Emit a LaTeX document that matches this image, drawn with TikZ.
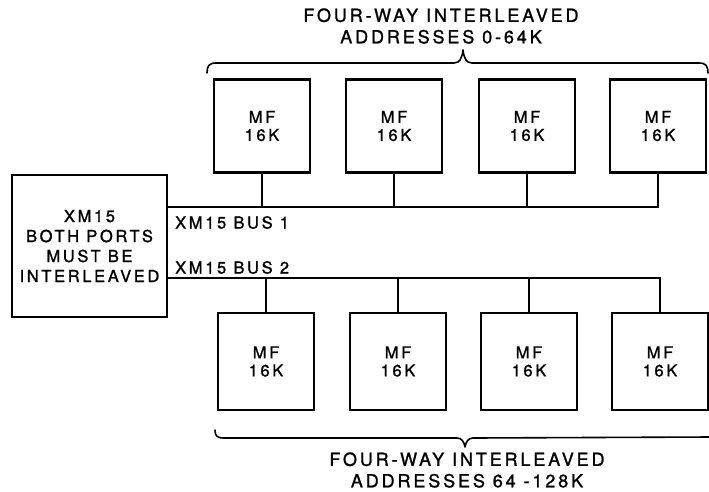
\documentclass[tikz,border=0pt]{standalone}
\usepackage{fontspec}
\setmainfont{TeX Gyre Heros}[LetterSpace=16,FakeBold=1.2]
\begin{document}
\begin{tikzpicture}[x=1pt,y=-1pt,
  box/.style={draw, line width=2.4pt, minimum width=96pt, minimum height=93pt, align=center, inner sep=0pt, font=\fontsize{16.5}{18}\selectfont},
  lbox/.style={box, minimum height=97pt},
  wire/.style={line width=1.3pt},
  brc/.style={line width=1.6pt, line cap=round, line join=round},
  title/.style={align=center, inner sep=0pt, font=\fontsize{18}{21.5}\selectfont},
  lab/.style={anchor=west, inner sep=0pt, font=\fontsize{16.5}{18}\selectfont}]
\useasboundingbox (0,0) rectangle (709,491);
% left box
\node[draw, line width=2.4pt, minimum width=155pt, minimum height=142pt, inner sep=0pt, align=center,
      font=\fontsize{16.5}{20}\selectfont] (xm) at (89.5,246) {XM15\\BOTH PORTS\\MUST BE\\INTERLEAVED};
% upper boxes
\node[box] (u1) at (262,126) {MF\\16K};
\node[box] (u2) at (394,126) {MF\\16K};
\node[box] (u3) at (527,126) {MF\\16K};
\node[box] (u4) at (658,126) {MF\\16K};
% lower boxes
\node[lbox] (d1) at (266,361.5) {MF\\16K};
\node[lbox] (d2) at (398,361.5) {MF\\16K};
\node[lbox] (d3) at (529,361.5) {MF\\16K};
\node[lbox] (d4) at (660,361.5) {MF\\16K};
% buses
\coordinate (bus1) at (0,207);
\coordinate (bus2) at (0,278);
\draw[wire] (xm.east |- bus1) -| (u4.south);
\foreach \n in {u1,u2,u3} \draw[wire] (\n.south) -- (\n.south |- bus1);
\draw[wire] (xm.east |- bus2) -| (d4.north);
\foreach \n in {d1,d2,d3} \draw[wire] (\n.north) -- (\n.north |- bus2);
\node[lab] (l1) at (175,222.5) {XM15 BUS 1};
\node[lab] (l2) at (175,267.5) {XM15 BUS 2};
% upper brace
\coordinate (ub1) at (207,73);
\coordinate (ub2) at (708,73);
\coordinate (ubt) at (463,50);
\draw[brc] (ub1) .. controls (207,66) and (209,63) .. (216,63) -- (454,63)
  .. controls (460,63) and (462,58) .. (ubt) .. controls (464,58) and (466,63) .. (472,63) -- (699,63)
  .. controls (706,63) and (708,66) .. (ub2);
\node[title] (t1) at (441,26) {FOUR-WAY INTERLEAVED\\ADDRESSES 0-64K};
% lower brace
\coordinate (lb1) at (215,430);
\coordinate (lb2) at (710,437);
\coordinate (lbt) at (465,447);
\draw[brc] (lb1) .. controls (215,436) and (217,438) .. (224,438) -- (457,438)
  .. controls (462,438) and (464,442) .. (lbt) .. controls (466,442) and (468,438) .. (473,438) -- (lb2);
\node[title] (t2) at (467,470) {FOUR-WAY INTERLEAVED\\ADDRESSES 64 -128K};
\end{tikzpicture}
\end{document}
